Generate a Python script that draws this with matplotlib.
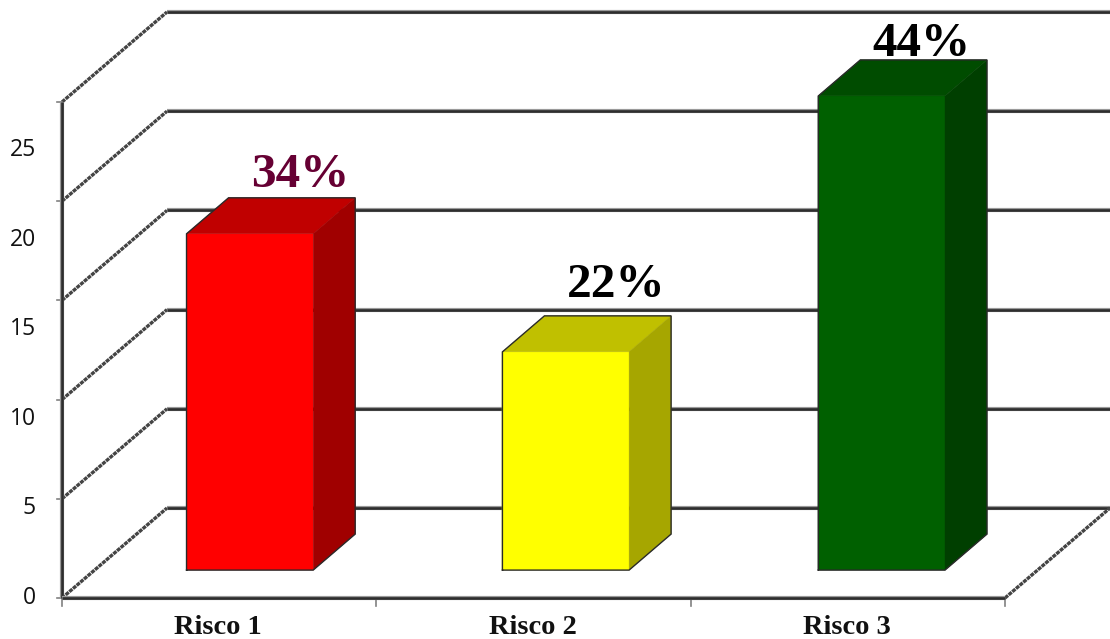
import matplotlib
matplotlib.use('Agg')
import matplotlib.pyplot as plt

categorias = ['Risco 1', 'Risco 2', 'Risco 3']
valores = [16.95, 11, 23.9]
percentuais = ['34%', '22%', '44%']
cor_percentual = ['#660033', '#000000', '#000000']
cor_frente = ['#ff0000', '#ffff00', '#006000']
cor_topo = ['#c00000', '#c0c000', '#004c00']
cor_lado = ['#a00000', '#a6a600', '#003f00']
marcas_y = [0, 5, 10, 15, 20, 25]
# posicao dos percentuais em relacao a barra, em px (nao e igual nas tres)
folga_rotulo = [1, 9, -6]
desvio_rotulo = [0, 0, -11]

# escalas: 1 categoria = 314.33 px, 1 unidade = 19.84 px
px_x = 314.33
px_y = 19.84
prof_x = 105 / px_x   # deslocamento da parede do fundo
prof_y = 90 / px_y


def proj(x, y, d):
    # ponto do grafico 3d para o plano da figura, d=0 frente, d=1 fundo
    return x + d * prof_x, y + d * prof_y


fig = plt.figure(figsize=(11.1, 6.39), dpi=100)
ax = fig.add_axes([0, 0, 1, 1])
ax.set_xlim(-62 / px_x, (1110 - 62) / px_x)
ax.set_ylim((598 - 639) / px_y, 598 / px_y)
ax.axis('off')

cinza = '#2e2e2e'
halo = '#9a9a9a'
diag = '#444444'


def linha(xs, ys, z):
    # linha grossa com a borda clara da imagem original
    ax.plot(xs, ys, color=halo, lw=3.0, solid_capstyle='butt', zorder=z)
    ax.plot(xs, ys, color=cinza, lw=1.9, solid_capstyle='butt', zorder=z)


# paredes: linhas de grade no fundo e diagonais na parede esquerda
for v in marcas_y:
    x0, y0 = proj(0, v, 0)
    x1, y1 = proj(0, v, 1)
    ax.plot([x0, x1], [y0, y1], color=diag, lw=2.4, ls=(0, (1.2, 0.25)), zorder=1)
    x2, y2 = proj(3, v, 1)
    linha([x1, x2], [y1, y2], 1)
    # marca do eixo y
    ax.plot([-5 / px_x, 0], [v, v], color='#808080', lw=1.2, zorder=1)

# chao e eixos da frente
linha([0, 0], [0, 25], 2)
linha([0, 3], [0, 0], 2)
x3, y3 = proj(3, 0, 1)
ax.plot([3, x3], [0, y3], color=diag, lw=2.4, ls=(0, (1.2, 0.25)), zorder=1)
for i in range(4):
    ax.plot([i, i], [0, -8 / px_y], color='#808080', lw=1.2, zorder=1)

# barras
larg = 0.403
d0, d1 = 0.31, 0.71
for i, v in enumerate(valores):
    esq = i * 1.005 + 0.2926
    dir_ = esq + larg
    a = proj(esq, 0, d0)
    b = proj(dir_, 0, d0)
    c = proj(dir_, v, d0)
    e = proj(esq, v, d0)
    f = proj(esq, v, d1)
    g = proj(dir_, v, d1)
    h = proj(dir_, 0, d1)
    for pts, cor in (((a, b, c, e), cor_frente[i]),
                     ((e, c, g, f), cor_topo[i]),
                     ((b, h, g, c), cor_lado[i])):
        ax.fill([p[0] for p in pts], [p[1] for p in pts], facecolor=cor,
                edgecolor=cor, lw=0.3, zorder=3)
    # so o contorno externo leva linha escura
    contorno = [a, b, h, g, f, e, a]
    ax.plot([p[0] for p in contorno], [p[1] for p in contorno], color='#2a2a2a',
            lw=1.0, solid_joinstyle='miter', zorder=3.5)
    ax.text(g[0] - 0.175 + desvio_rotulo[i] / px_x, g[1] + folga_rotulo[i] / px_y,
            percentuais[i], color=cor_percentual[i],
            family='Liberation Serif', weight='bold', fontsize=35.5,
            ha='center', va='bottom', zorder=4)

# os rotulos do eixo y nao acompanham as marcas na figura original
for v in marcas_y:
    ax.text(-26 / px_x, 0 + v * 0.903, str(v), family='Open Sans', fontsize=16.5,
            color='#111111', ha='right', va='center')

for i, nome in enumerate(categorias):
    ax.text(i + 0.497, -29 / px_y, nome, family='Liberation Serif', weight='bold',
            fontsize=20.5, color='#111111', ha='center', va='center')

fig.savefig('out.png', dpi=100)
